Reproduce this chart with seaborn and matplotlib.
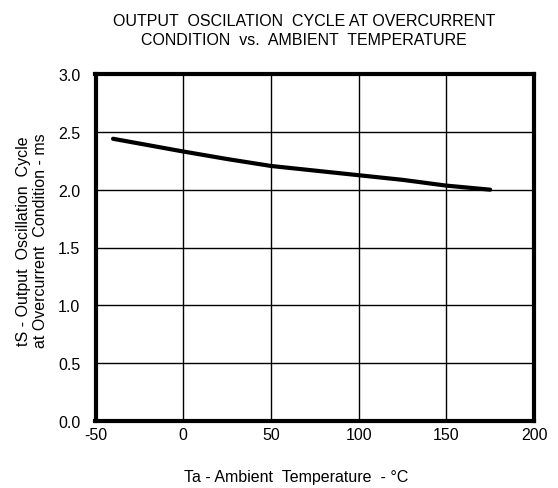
import numpy as np
import pandas as pd
import matplotlib
matplotlib.use("Agg")
import matplotlib.pyplot as plt
import seaborn as sns

# values
temperature = [-40, 0, 25, 50, 75, 100, 125, 150, 175]
cycle_ms = [2.44, 2.33, 2.265, 2.205, 2.165, 2.125, 2.085, 2.035, 2.0]

x_ticks = [-50, 0, 50, 100, 150, 200]
y_ticks = [0.0, 0.5, 1.0, 1.5, 2.0, 2.5, 3.0]

sns.set_theme(style="white")
plt.rcParams['font.family'] = ['Liberation Sans', 'DejaVu Sans']
plt.rcParams['axes.unicode_minus'] = False

df = pd.DataFrame({'Ta': temperature, 'tS': cycle_ms})

fig = plt.figure(figsize=(5.58, 4.89), dpi=100)
ax = fig.add_axes([95.5 / 558, 1 - 422 / 489, 438.5 / 558, 347 / 489])

sns.lineplot(data=df, x='Ta', y='tS', ax=ax, color='black', linewidth=3,
             solid_capstyle='round')

ax.set_xlim(-50, 200)
ax.set_ylim(0, 3)
ax.set_xticks(x_ticks)
ax.set_xticklabels([str(v) for v in x_ticks])
ax.set_yticks(y_ticks)
ax.set_yticklabels([f"{v:.1f}" for v in y_ticks])
ax.grid(True, color='black', linewidth=1)
ax.set_axisbelow(True)
for s in ax.spines.values():
    s.set_color('black')
    s.set_linewidth(3)
ax.tick_params(axis='both', length=0, labelsize=11.5, colors='black')
ax.tick_params(axis='x', pad=4)
ax.tick_params(axis='y', pad=11)
ax.set_xlabel('')
ax.set_ylabel('')

fig.text(296 / 558, 1 - 478 / 489, 'Ta - Ambient  Temperature  - °C',
         ha='center', va='center', fontsize=11.5, color='black')
fig.text(32 / 558, 1 - 241 / 489,
         'tS - Output  Oscillation  Cycle\nat Overcurrent  Condition - ms',
         ha='center', va='center', rotation=90, fontsize=11.5, color='black',
         linespacing=1.2)

fig.text(304 / 558, 1 - 31 / 489,
         'OUTPUT  OSCILATION  CYCLE AT OVERCURRENT\nCONDITION  vs.  AMBIENT  TEMPERATURE',
         ha='center', va='center', fontsize=11.5, color='black', linespacing=1.3)

fig.savefig('out.png', dpi=100, facecolor='white')
